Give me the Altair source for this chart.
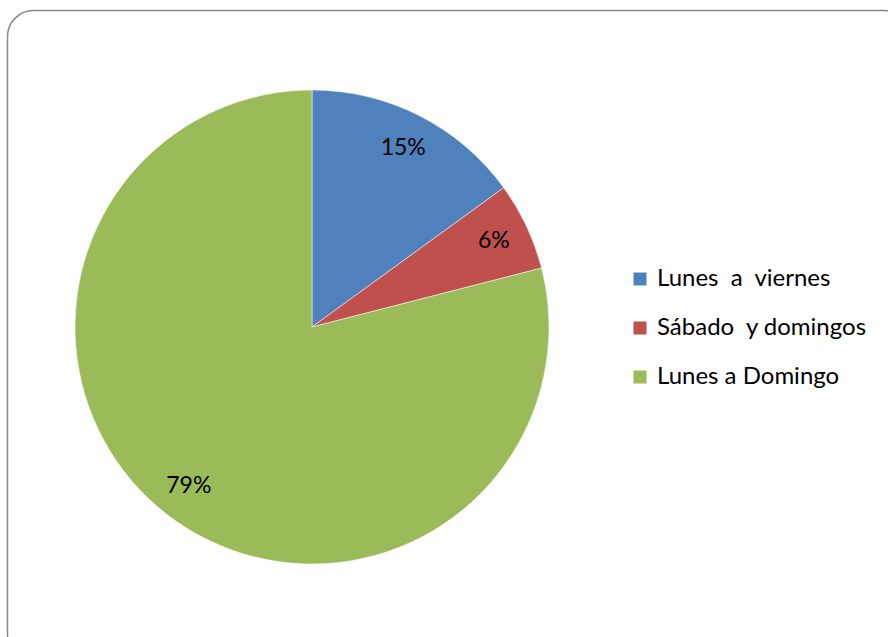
import altair as alt
import pandas as pd

NB = "\u00a0"
categories = [f"Lunes{NB}{NB}a{NB}{NB}viernes", f"Sábado{NB}{NB}y domingos", "Lunes a Domingo"]
values = [15, 6, 79]
labels = ["15%", "6%", "79%"]
colors = ["#4F81BD", "#C0504D", "#9BBB59"]

df = pd.DataFrame({"cat": categories, "val": values, "lab": labels, "ord": [0, 1, 2]})

FONT = "Lato"
CX, CY = 312, 327

frame = alt.Chart(pd.DataFrame({"a": [0]})).mark_rect(
    filled=False, stroke="#888888", strokeWidth=1.5, cornerRadius=26
).encode(
    x=alt.value(7.5), x2=alt.value(910), y=alt.value(10.5), y2=alt.value(660)
)

base = alt.Chart(df).encode(
    theta=alt.Theta("val:Q", stack=True),
    order=alt.Order("ord:Q", sort="ascending"),
)

pie = base.mark_arc(outerRadius=237, stroke="white", strokeWidth=0.5).encode(
    color=alt.Color(
        "cat:N",
        scale=alt.Scale(domain=categories, range=colors),
        sort=categories,
        legend=alt.Legend(
            title=None,
            orient="none",
            legendX=628,
            legendY=267,
            symbolType="square",
            symbolSize=169,
            symbolStrokeWidth=0,
            labelFont=FONT,
            labelFontSize=24,
            labelColor="#000000",
            labelOffset=5,
            rowPadding=25,
            labelLimit=400,
        ),
    ),
    x=alt.value(CX),
    y=alt.value(CY),
)

text = base.mark_text(radius=201, font=FONT, fontSize=23, color="#000000").encode(
    text="lab:N",
    x=alt.value(CX),
    y=alt.value(CY),
)

chart = alt.layer(frame, pie, text).properties(
    width=888, height=637, padding=0, autosize=alt.AutoSizeParams(type="none"),
    background="white",
).configure_view(stroke=None)

chart.save("out.html", embed_options={"renderer": "svg", "actions": False})
